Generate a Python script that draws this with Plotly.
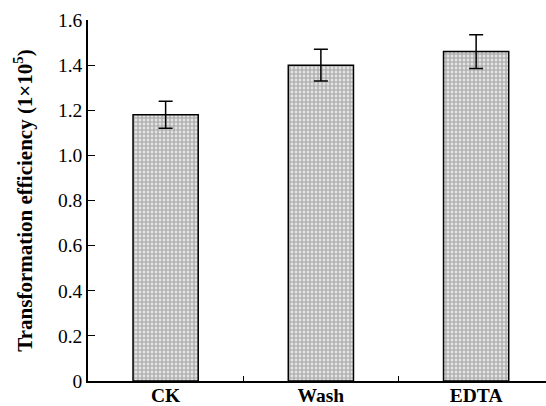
import plotly.graph_objects as go

categories = ["CK", "Wash", "EDTA"]
values = [1.18, 1.40, 1.46]
errors = [0.06, 0.07, 0.075]
y_ticks = [0, 0.2, 0.4, 0.6, 0.8, 1.0, 1.2, 1.4, 1.6]
y_tick_text = ["0", "0.2", "0.4", "0.6", "0.8", "1.0", "1.2", "1.4", "1.6"]
x_positions = list(range(len(categories)))
x_between = [0.5, 1.5]

serif = "Liberation Serif, Times New Roman, serif"

fig = go.Figure()
fig.add_trace(go.Bar(
    x=x_positions, y=values, width=0.42,
    marker=dict(color="#d0d0d0", line=dict(color="black", width=1.5),
                pattern=dict(shape="+", fgcolor="#666666", bgcolor="#e3e3e3",
                             size=4, solidity=0.5)),
    error_y=dict(type="data", array=errors, visible=True,
                 color="black", thickness=1.5, width=7),
    showlegend=False,
))
# invisible trace on second x axis for category labels
fig.add_trace(go.Scatter(x=x_positions, y=values, xaxis="x2", mode="markers",
                         marker=dict(opacity=0), showlegend=False, hoverinfo="skip"))

fig.update_layout(
    width=546, height=406,
    margin=dict(l=88, r=0, t=20, b=23),
    plot_bgcolor="white", paper_bgcolor="white",
    font=dict(family=serif, size=16, color="black"),
    xaxis=dict(range=[-0.5, 2.45], tickvals=x_between, showticklabels=False,
               ticks="inside", ticklen=5, tickwidth=1.2, tickcolor="black",
               showline=True, linecolor="black", linewidth=1.5,
               showgrid=False, zeroline=False),
    xaxis2=dict(overlaying="x", matches="x", side="bottom",
                tickvals=x_positions, ticktext=categories,
                ticks="", showline=False, showgrid=False, zeroline=False,
                tickfont=dict(family=serif, size=19.5, color="black", weight="bold")),
    yaxis=dict(range=[0, 1.6], tickvals=y_ticks, ticktext=y_tick_text,
               ticks="inside", ticklen=7, tickwidth=1.2, tickcolor="black",
               showline=True, linecolor="black", linewidth=1.5,
               showgrid=False, zeroline=False,
               tickfont=dict(family=serif, size=19.5, color="black"),
               title=dict(text="<b>Transformation efficiency (1×10<sup>5</sup>)</b>",
                          font=dict(family=serif, size=21, color="black"),
                          standoff=20)),
)

fig.write_html("out.html")
